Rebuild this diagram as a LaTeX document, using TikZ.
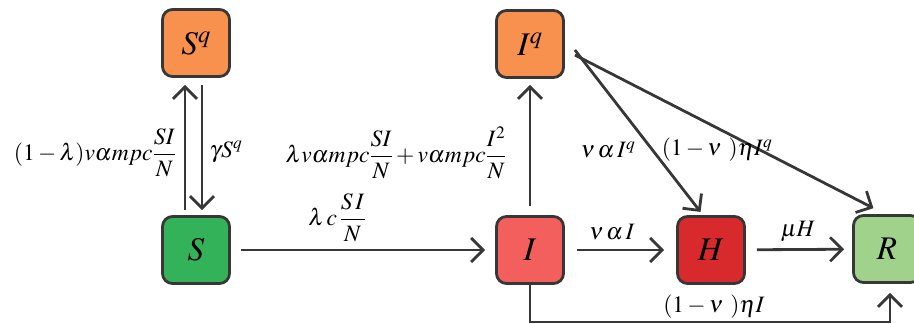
\documentclass[tikz,border=0pt]{standalone}
\usepackage{mathptmx}
\usetikzlibrary{arrows.meta}
\definecolor{cSq}{RGB}{247,145,77}
\definecolor{cS}{RGB}{52,178,90}
\definecolor{cI}{RGB}{242,95,92}
\definecolor{cH}{RGB}{216,42,45}
\definecolor{cR}{RGB}{160,210,140}
\definecolor{edge}{RGB}{55,55,55}
\begin{document}
\begin{tikzpicture}[x=1pt,y=-1pt,
  box/.style={draw=edge,line width=2.8pt,rounded corners=10pt,minimum width=67pt,minimum height=67pt,inner sep=0pt,font=\fontsize{33}{38}\selectfont},
  arr/.style={draw=edge,line width=2.8pt,-{Straight Barb[length=12pt,width=24pt,line width=2.8pt]}},
  lab/.style={font=\fontsize{23.5}{28}\selectfont,inner sep=0pt}]
\clip (0,0) rectangle (914,324);
\node[box,fill=cSq] (Sq) at (196,43) {$S^q$};
\node[box,fill=cS] (S) at (196,250) {$S$};
\node[box,fill=cSq] (Iq) at (530,44) {$I^q$};
\node[box,fill=cI] (I) at (530,250) {$I$};
\node[box,fill=cH] (H) at (711,250) {$H$};
\node[box,fill=cR] (R) at (887,249) {$R$};
\coordinate (bl) at (530,322);
\coordinate (br) at (890,322);
% arrows
\draw[arr,shorten <=10pt,shorten >=10pt] (S) -- (I);
\draw[arr,shorten <=5pt,shorten >=7pt] ([xshift=-11pt]S.north) -- ([xshift=-11pt]Sq.south);
\draw[arr,shorten <=7pt,shorten >=5pt] ([xshift=6pt]Sq.south) -- ([xshift=6pt]S.north);
\draw[arr,shorten <=9pt,shorten >=6pt] (I.north) -- (Iq.south);
\draw[arr,shorten <=12pt,shorten >=12pt] (I) -- (H);
\draw[arr,shorten <=11pt,shorten >=8pt] (H) -- (R);
\draw[arr,shorten >=4pt] ([xshift=10pt,yshift=-6pt]Iq.east) -- ([xshift=-8pt]H.north);
\draw[arr,shorten >=13pt] ([xshift=10pt,yshift=-11pt]Iq.east) -- ([xshift=-2pt]R.north);
\draw[arr,shorten >=9pt] (I.south) -- (bl) -- (br) -- (br |- R.south);
% labels
\node[lab] (l1) at (95,153) {$\displaystyle (1-\lambda)v\alpha mpc\frac{SI}{N}$};
\node[lab] (l2) at (226,152) {$\gamma S^q$};
\node[lab] (l3) at (396,153) {$\displaystyle \lambda v\alpha mpc\frac{SI}{N}+v\alpha mpc\frac{I^2}{N}$};
\node[lab] (l4) at (337,218) {$\displaystyle \lambda\, c\,\frac{S\,I}{N}$};
\node[lab] (l5) at (608,150) {$\nu\,\alpha\, I^q$};
\node[lab] (l6) at (717,150) {$(1-\nu\ )\eta I^q$};
\node[lab] (l7) at (612,232) {$\nu\,\alpha\, I$};
\node[lab] (l8) at (798,232) {$\mu H$};
\node[lab] (l9) at (714,307) {$(1-\nu\ )\eta I$};
\end{tikzpicture}
\end{document}
